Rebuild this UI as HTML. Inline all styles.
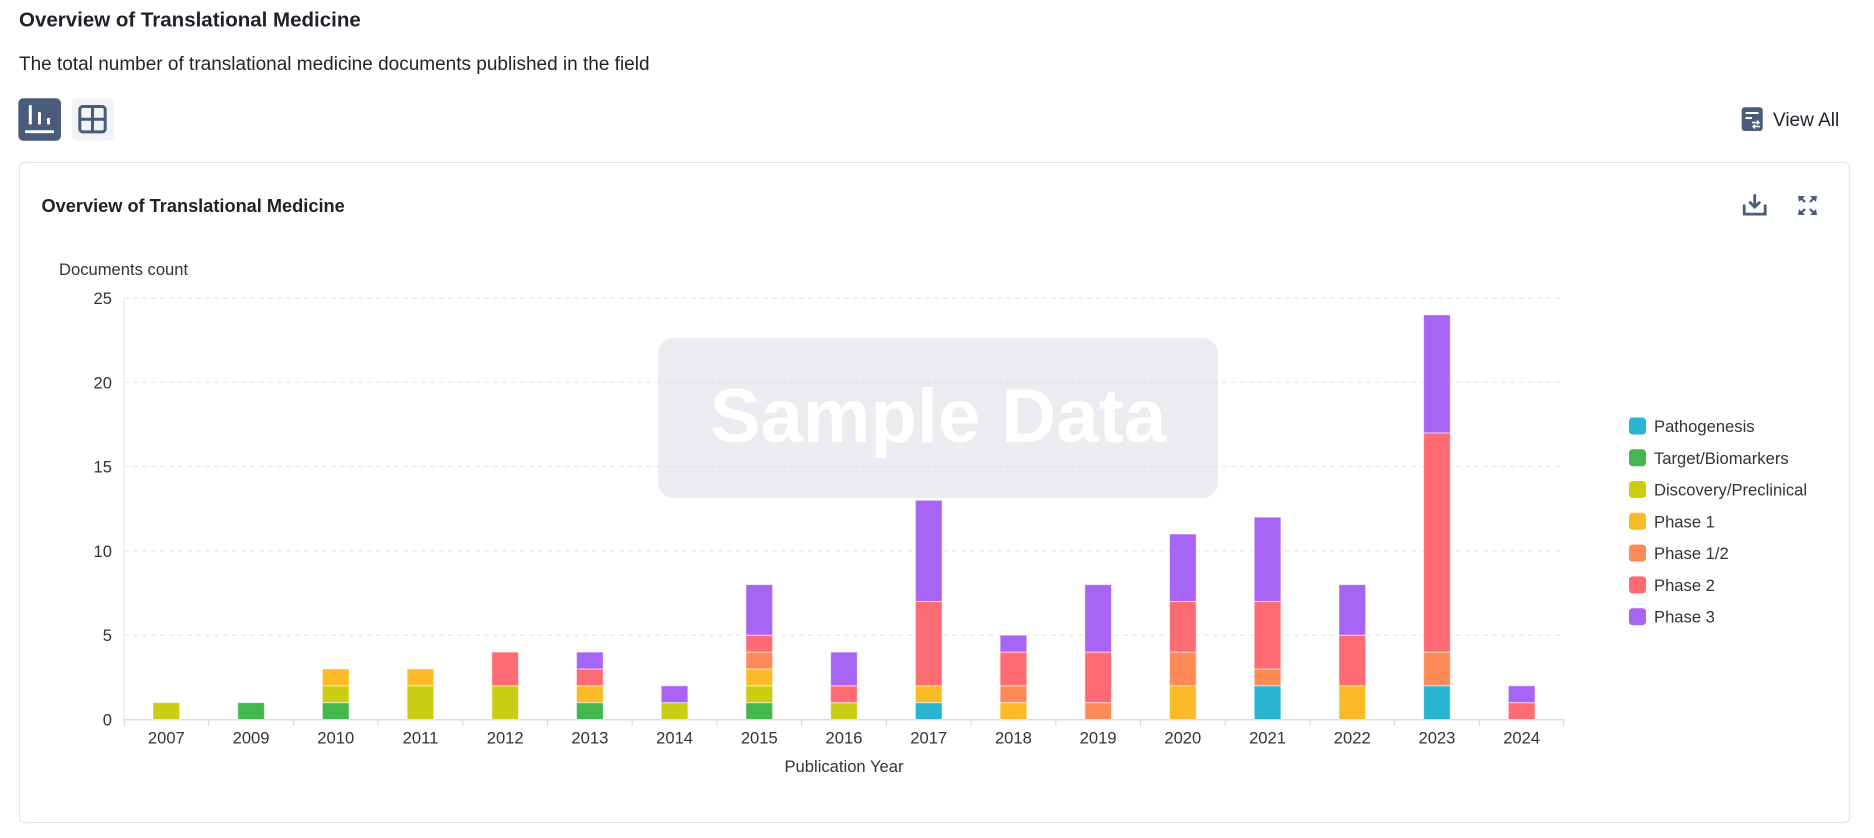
<!DOCTYPE html>
<html><head><meta charset="utf-8"><style>
html,body{margin:0;padding:0;background:#fff;}
svg{display:block;}
text{font-family:"Liberation Sans",Arial,sans-serif;}
</style></head><body>
<svg width="1874" height="838" viewBox="0 0 1874 838" xmlns="http://www.w3.org/2000/svg">
<rect width="1874" height="838" fill="#fff"/>
<text x="19" y="26.5" font-size="20.5" font-weight="bold" fill="#1d2129">Overview of Translational Medicine</text>
<text x="19" y="70" font-size="19" fill="#1f2329">The total number of translational medicine documents published in the field</text>

<!-- toggle buttons -->
<rect x="18.3" y="98.3" width="42.7" height="42.4" rx="5" fill="#4b5b7c"/>
<rect x="28.8" y="105" width="3" height="19.5" rx="1" fill="#fff"/>
<rect x="38" y="112" width="3" height="12.5" rx="1" fill="#fff"/>
<rect x="47" y="118" width="3" height="6.5" rx="1" fill="#fff"/>
<rect x="25" y="130.3" width="29" height="2.8" rx="1" fill="#fff"/>
<rect x="71.7" y="98.3" width="42.3" height="42.4" rx="5" fill="#f2f3f6"/>
<rect x="79.8" y="106.5" width="25.4" height="25.4" rx="3" fill="none" stroke="#4b5b7c" stroke-width="3"/>
<line x1="92.5" y1="106.5" x2="92.5" y2="131.9" stroke="#4b5b7c" stroke-width="3"/>
<line x1="79.8" y1="119.2" x2="105.2" y2="119.2" stroke="#4b5b7c" stroke-width="3"/>

<!-- view all -->
<rect x="1741.7" y="107.3" width="21" height="23.7" rx="3" fill="#4b5b7c"/>
<line x1="1745.5" y1="113" x2="1758.5" y2="113" stroke="#fff" stroke-width="2"/>
<line x1="1745.5" y1="118" x2="1752" y2="118" stroke="#fff" stroke-width="2"/>
<path d="M1752 122.5 h7 M1753 126.5 h7 M1757 120.5 l2 2 l-2 2 M1755 124.5 l-2 2 l2 2" stroke="#fff" stroke-width="1.4" fill="none"/>
<text x="1773" y="126" font-size="19" fill="#1d2129">View All</text>

<!-- card -->
<rect x="19.5" y="162.5" width="1830" height="660" rx="5" fill="none" stroke="#e2e4ea" stroke-width="1.2"/>
<text x="41.5" y="212" font-size="18.2" font-weight="bold" fill="#1d2129">Overview of Translational Medicine</text>

<!-- download icon -->
<path d="M1744.2 204.5 v9.6 h21 v-9.6" fill="none" stroke="#4b5b7c" stroke-width="2.8"/>
<path d="M1754.7 194.3 v12.5 M1749.3 201.8 l5.4 5.4 l5.4 -5.4" fill="none" stroke="#4b5b7c" stroke-width="2.8"/>
<!-- expand icon -->
<g fill="#4b5b7c">
<path d="M1798 196 h7 l-2.2 2.2 l3 3 l-1.6 1.6 l-3 -3 l-2.2 2.2 z"/>
<path d="M1817 196 h-7 l2.2 2.2 l-3 3 l1.6 1.6 l3 -3 l2.2 2.2 z"/>
<path d="M1798 215 h7 l-2.2 -2.2 l3 -3 l-1.6 -1.6 l-3 3 l-2.2 -2.2 z"/>
<path d="M1817 215 h-7 l2.2 -2.2 l-3 -3 l1.6 -1.6 l3 3 l2.2 -2.2 z"/>
</g>

<text x="59" y="275" font-size="16.6" fill="#333">Documents count</text>

<!-- grid -->
<g stroke="#e1e2e8" stroke-width="1" stroke-dasharray="5 4">
<line x1="124" y1="298" x2="1564" y2="298"/>
<line x1="124" y1="382.3" x2="1564" y2="382.3"/>
<line x1="124" y1="466.6" x2="1564" y2="466.6"/>
<line x1="124" y1="550.9" x2="1564" y2="550.9"/>
<line x1="124" y1="635.2" x2="1564" y2="635.2"/>
</g>
<line x1="124" y1="298" x2="124" y2="720" stroke="#e4e6ec" stroke-width="1"/>
<line x1="124" y1="719.8" x2="1564" y2="719.8" stroke="#d9dbe3" stroke-width="1.5"/>
<g stroke="#d9dbe3" stroke-width="1.2">
<line x1="124.5" y1="720" x2="124.5" y2="726"/>
<line x1="208.7" y1="720" x2="208.7" y2="726"/>
<line x1="293.4" y1="720" x2="293.4" y2="726"/>
<line x1="378.1" y1="720" x2="378.1" y2="726"/>
<line x1="462.8" y1="720" x2="462.8" y2="726"/>
<line x1="547.5" y1="720" x2="547.5" y2="726"/>
<line x1="632.2" y1="720" x2="632.2" y2="726"/>
<line x1="716.9" y1="720" x2="716.9" y2="726"/>
<line x1="801.6" y1="720" x2="801.6" y2="726"/>
<line x1="886.4" y1="720" x2="886.4" y2="726"/>
<line x1="971.1" y1="720" x2="971.1" y2="726"/>
<line x1="1055.8" y1="720" x2="1055.8" y2="726"/>
<line x1="1140.5" y1="720" x2="1140.5" y2="726"/>
<line x1="1225.2" y1="720" x2="1225.2" y2="726"/>
<line x1="1309.9" y1="720" x2="1309.9" y2="726"/>
<line x1="1394.6" y1="720" x2="1394.6" y2="726"/>
<line x1="1479.3" y1="720" x2="1479.3" y2="726"/>
<line x1="1563.5" y1="720" x2="1563.5" y2="726"/>
</g>

<!-- y labels -->
<g font-size="16.6" fill="#333" text-anchor="end">
<text x="112" y="304">25</text>
<text x="112" y="388.3">20</text>
<text x="112" y="472.6">15</text>
<text x="112" y="556.9">10</text>
<text x="112" y="641.2">5</text>
<text x="112" y="725.5">0</text>
</g>

<!-- x labels -->
<g font-size="16.6" fill="#333" text-anchor="middle">
<text x="166.35" y="743.3">2007</text>
<text x="251.06" y="743.3">2009</text>
<text x="335.76" y="743.3">2010</text>
<text x="420.47" y="743.3">2011</text>
<text x="505.18" y="743.3">2012</text>
<text x="589.88" y="743.3">2013</text>
<text x="674.59" y="743.3">2014</text>
<text x="759.29" y="743.3">2015</text>
<text x="844" y="743.3">2016</text>
<text x="928.71" y="743.3">2017</text>
<text x="1013.41" y="743.3">2018</text>
<text x="1098.12" y="743.3">2019</text>
<text x="1182.82" y="743.3">2020</text>
<text x="1267.53" y="743.3">2021</text>
<text x="1352.24" y="743.3">2022</text>
<text x="1436.94" y="743.3">2023</text>
<text x="1521.65" y="743.3">2024</text>
</g>
<text x="844" y="772" font-size="16.6" fill="#333" text-anchor="middle">Publication Year</text>

<!-- bars -->
<g stroke="rgba(255,255,255,0.55)" stroke-width="1">
<!-- 2007 -->
<g transform="translate(153,0)"><rect x="0" y="702.64" width="26.7" height="16.86" fill="#cbcd13"/></g>
<!-- 2009 -->
<g transform="translate(237.7,0)"><rect x="0" y="702.64" width="26.7" height="16.86" fill="#44b74f"/></g>
<!-- 2010 -->
<g transform="translate(322.4,0)">
<rect x="0" y="702.64" width="26.7" height="16.86" fill="#44b74f"/>
<rect x="0" y="685.78" width="26.7" height="16.86" fill="#cbcd13"/>
<rect x="0" y="668.92" width="26.7" height="16.86" fill="#fbba27"/>
</g>
<!-- 2011 -->
<g transform="translate(407.1,0)">
<rect x="0" y="685.78" width="26.7" height="33.72" fill="#cbcd13"/>
<rect x="0" y="668.92" width="26.7" height="16.86" fill="#fbba27"/>
</g>
<!-- 2012 -->
<g transform="translate(491.8,0)">
<rect x="0" y="685.78" width="26.7" height="33.72" fill="#cbcd13"/>
<rect x="0" y="652.06" width="26.7" height="33.72" fill="#ff6b72"/>
</g>
<!-- 2013 -->
<g transform="translate(576.5,0)">
<rect x="0" y="702.64" width="26.7" height="16.86" fill="#44b74f"/>
<rect x="0" y="685.78" width="26.7" height="16.86" fill="#fbba27"/>
<rect x="0" y="668.92" width="26.7" height="16.86" fill="#ff6b72"/>
<rect x="0" y="652.06" width="26.7" height="16.86" fill="#a764f5"/>
</g>
<!-- 2014 -->
<g transform="translate(661.2,0)">
<rect x="0" y="702.64" width="26.7" height="16.86" fill="#cbcd13"/>
<rect x="0" y="685.78" width="26.7" height="16.86" fill="#a764f5"/>
</g>
<!-- 2015 -->
<g transform="translate(745.9,0)">
<rect x="0" y="702.64" width="26.7" height="16.86" fill="#44b74f"/>
<rect x="0" y="685.78" width="26.7" height="16.86" fill="#cbcd13"/>
<rect x="0" y="668.92" width="26.7" height="16.86" fill="#fbba27"/>
<rect x="0" y="652.06" width="26.7" height="16.86" fill="#ff8a58"/>
<rect x="0" y="635.2" width="26.7" height="16.86" fill="#ff6b72"/>
<rect x="0" y="584.62" width="26.7" height="50.58" fill="#a764f5"/>
</g>
<!-- 2016 -->
<g transform="translate(830.6,0)">
<rect x="0" y="702.64" width="26.7" height="16.86" fill="#cbcd13"/>
<rect x="0" y="685.78" width="26.7" height="16.86" fill="#ff6b72"/>
<rect x="0" y="652.06" width="26.7" height="33.72" fill="#a764f5"/>
</g>
<!-- 2017 -->
<g transform="translate(915.4,0)">
<rect x="0" y="702.64" width="26.7" height="16.86" fill="#29b5d1"/>
<rect x="0" y="685.78" width="26.7" height="16.86" fill="#fbba27"/>
<rect x="0" y="601.48" width="26.7" height="84.3" fill="#ff6b72"/>
<rect x="0" y="500.32" width="26.7" height="101.16" fill="#a764f5"/>
</g>
<!-- 2018 -->
<g transform="translate(1000.1,0)">
<rect x="0" y="702.64" width="26.7" height="16.86" fill="#fbba27"/>
<rect x="0" y="685.78" width="26.7" height="16.86" fill="#ff8a58"/>
<rect x="0" y="652.06" width="26.7" height="33.72" fill="#ff6b72"/>
<rect x="0" y="635.2" width="26.7" height="16.86" fill="#a764f5"/>
</g>
<!-- 2019 -->
<g transform="translate(1084.8,0)">
<rect x="0" y="702.64" width="26.7" height="16.86" fill="#ff8a58"/>
<rect x="0" y="652.06" width="26.7" height="50.58" fill="#ff6b72"/>
<rect x="0" y="584.62" width="26.7" height="67.44" fill="#a764f5"/>
</g>
<!-- 2020 -->
<g transform="translate(1169.5,0)">
<rect x="0" y="685.78" width="26.7" height="33.72" fill="#fbba27"/>
<rect x="0" y="652.06" width="26.7" height="33.72" fill="#ff8a58"/>
<rect x="0" y="601.48" width="26.7" height="50.58" fill="#ff6b72"/>
<rect x="0" y="534.04" width="26.7" height="67.44" fill="#a764f5"/>
</g>
<!-- 2021 -->
<g transform="translate(1254.2,0)">
<rect x="0" y="685.78" width="26.7" height="33.72" fill="#29b5d1"/>
<rect x="0" y="668.92" width="26.7" height="16.86" fill="#ff8a58"/>
<rect x="0" y="601.48" width="26.7" height="67.44" fill="#ff6b72"/>
<rect x="0" y="517.18" width="26.7" height="84.3" fill="#a764f5"/>
</g>
<!-- 2022 -->
<g transform="translate(1338.9,0)">
<rect x="0" y="685.78" width="26.7" height="33.72" fill="#fbba27"/>
<rect x="0" y="635.2" width="26.7" height="50.58" fill="#ff6b72"/>
<rect x="0" y="584.62" width="26.7" height="50.58" fill="#a764f5"/>
</g>
<!-- 2023 -->
<g transform="translate(1423.6,0)">
<rect x="0" y="685.78" width="26.7" height="33.72" fill="#29b5d1"/>
<rect x="0" y="652.06" width="26.7" height="33.72" fill="#ff8a58"/>
<rect x="0" y="432.88" width="26.7" height="219.18" fill="#ff6b72"/>
<rect x="0" y="314.86" width="26.7" height="118.02" fill="#a764f5"/>
</g>
<!-- 2024 -->
<g transform="translate(1508.3,0)">
<rect x="0" y="702.64" width="26.7" height="16.86" fill="#ff6b72"/>
<rect x="0" y="685.78" width="26.7" height="16.86" fill="#a764f5"/>
</g>
</g>

<!-- sample data overlay -->
<rect x="658" y="338" width="560" height="160" rx="16" fill="rgba(214,217,223,0.5)"/>
<text x="938" y="442" font-size="76" font-weight="bold" fill="#fff" text-anchor="middle">Sample Data</text>

<!-- legend -->
<g font-size="16.6" fill="#333">
<rect x="1629" y="417.5" width="17" height="17" rx="3.5" fill="#29b5d1"/><text x="1654" y="432">Pathogenesis</text>
<rect x="1629" y="449.3" width="17" height="17" rx="3.5" fill="#44b74f"/><text x="1654" y="463.8">Target/Biomarkers</text>
<rect x="1629" y="481" width="17" height="17" rx="3.5" fill="#cbcd13"/><text x="1654" y="495.5">Discovery/Preclinical</text>
<rect x="1629" y="512.8" width="17" height="17" rx="3.5" fill="#fbba27"/><text x="1654" y="527.3">Phase 1</text>
<rect x="1629" y="544.6" width="17" height="17" rx="3.5" fill="#ff8a58"/><text x="1654" y="559.1">Phase 1/2</text>
<rect x="1629" y="576.4" width="17" height="17" rx="3.5" fill="#ff6b72"/><text x="1654" y="590.9">Phase 2</text>
<rect x="1629" y="608.2" width="17" height="17" rx="3.5" fill="#a764f5"/><text x="1654" y="622.7">Phase 3</text>
</g>
</svg>
</body></html>
